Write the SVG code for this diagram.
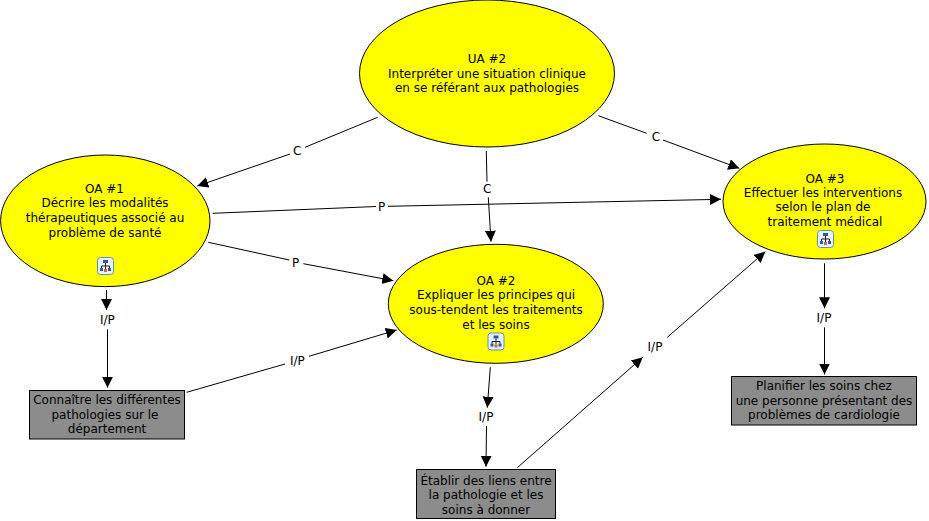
<svg xmlns="http://www.w3.org/2000/svg" width="929" height="521" viewBox="0 0 929 521">
<style>
text{font-family:"DejaVu Sans",Verdana,sans-serif;font-size:12px;fill:#000;text-anchor:middle}
.oval{fill:#ffff00;stroke:#000;stroke-width:1}
.box{fill:#8c8c8c;stroke:#000;stroke-width:1}
.ln{stroke:#000;stroke-width:1;fill:none}
.ah{stroke:#000;stroke-width:1;fill:none;marker-end:url(#a)}
</style>
<defs>
<marker id="a" markerUnits="userSpaceOnUse" markerWidth="12" markerHeight="12" refX="11" refY="5.500" orient="auto"><path d="M0 0L11 5.500L0 11Z" fill="#000"/></marker>
<g id="icon">
<rect x="0.500" y="0.500" width="16" height="17" rx="3" fill="#e8f2fa" stroke="#5b93b8"/>
<rect x="6" y="3" width="5" height="3" fill="#3b4fb5"/>
<path d="M8.500 6V9M4.500 11V9H12.500V11M8.500 9V12" stroke="#222" fill="none"/>
<rect x="3" y="11" width="3" height="3" fill="#3b4fb5"/>
<rect x="11" y="11" width="3" height="3" fill="#3b4fb5"/>
<rect x="7" y="12" width="3" height="3" fill="#c0703a"/>
</g>
</defs>
<g id="connectors">
<path class="ln" d="M377.700 117.300L305 147.300"/><path class="ah" d="M290 154L197.300 186"/>
<path class="ln" d="M486.300 151L487 181.700"/><path class="ah" d="M488.300 197.300L491 241.700"/>
<path class="ln" d="M598.300 115.700L646.700 133.300"/><path class="ah" d="M663 140L739.300 168.300"/>
<path class="ln" d="M212.700 213.300L376 206.500"/><path class="ah" d="M388 206.300L721 199.300"/>
<path class="ln" d="M208.300 242.300L289.300 260"/><path class="ah" d="M303.300 263.700L393.300 280.700"/>
<path class="ah" d="M106.500 290L106.500 310"/><path class="ah" d="M107.500 329.300L107.500 387.700"/>
<path class="ln" d="M186.700 392.300L285 364"/><path class="ah" d="M309 356.300L396.700 330"/>
<path class="ah" d="M490.300 367.300L487.300 407.700"/><path class="ah" d="M486.500 426L486 466.700"/>
<path class="ah" d="M517.300 467.700L642.700 357.300"/>
<path class="ah" d="M667.300 337.300L765.300 251.700"/>
<path class="ah" d="M824.500 263.300L824.500 308.300"/><path class="ah" d="M824.500 327.300L824.500 374.500"/>
<text x="297.300" y="154.500">C</text><text x="487.300" y="193.300">C</text><text x="656" y="141">C</text>
<text x="381.700" y="211">P</text><text x="295.700" y="267">P</text>
<text x="107.300" y="324">I/P</text><text x="297.300" y="364.700">I/P</text><text x="486" y="421">I/P</text><text x="655" y="351">I/P</text><text x="824" y="322.300">I/P</text>
</g>
<g id="ua2"><ellipse class="oval" cx="487" cy="73.500" rx="127.500" ry="73.500"/>
<text x="487" y="63">UA #2</text><text x="487" y="77.700">Interpréter une situation clinique</text><text x="487" y="92">en se référant aux pathologies</text></g>
<g id="oa1"><ellipse class="oval" cx="105.300" cy="220.800" rx="104.700" ry="65.800"/>
<text x="104.500" y="192.700">OA #1</text><text x="105" y="207.300">Décrire les modalités</text><text x="105" y="222">thérapeutiques associé au</text><text x="105" y="236.700">problème de santé</text>
<use href="#icon" x="97" y="257"/></g>
<g id="oa2"><ellipse class="oval" cx="495.800" cy="303.800" rx="107.500" ry="59.500"/>
<text x="496" y="285">OA #2</text><text x="496" y="299.300">Expliquer les principes qui</text><text x="496" y="314">sous-tendent les traitements</text><text x="496" y="328.700">et les soins</text>
<use href="#icon" x="487.500" y="332.500"/></g>
<g id="oa3"><ellipse class="oval" cx="824.500" cy="201.500" rx="101.500" ry="57.500"/>
<text x="825" y="183">OA #3</text><text x="823" y="197">Effectuer les interventions</text><text x="823" y="211">selon le plan de</text><text x="825" y="226">traitement médical</text>
<use href="#icon" x="817" y="230"/></g>
<g id="box1"><rect class="box" x="29.500" y="390.500" width="155" height="48.500"/>
<text x="107" y="404">Connaître les différentes</text><text x="105" y="418.700">pathologies sur le</text><text x="107" y="433">département</text></g>
<g id="box2"><rect class="box" x="416.500" y="469.500" width="139" height="49"/>
<text x="486" y="485">Établir des liens entre</text><text x="486" y="499.300">la pathologie et les</text><text x="486" y="514">soins à donner</text></g>
<g id="box3"><rect class="box" x="731.500" y="376.500" width="185" height="48.500"/>
<text x="824" y="390">Planifier les soins chez</text><text x="824" y="404.700">une personne présentant des</text><text x="824" y="419.300">problèmes de cardiologie</text></g>
</svg>
